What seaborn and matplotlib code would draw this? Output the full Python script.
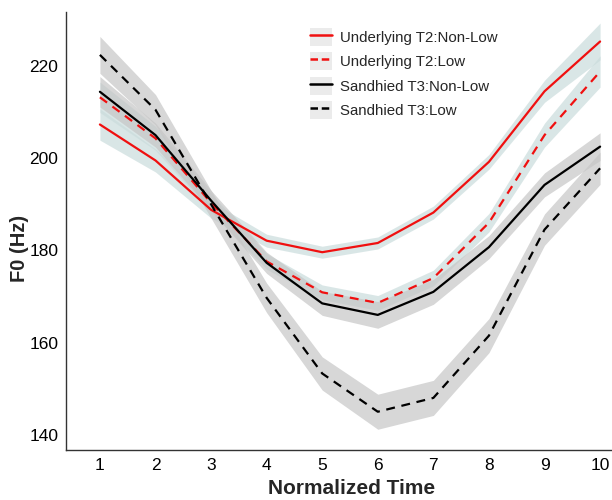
import numpy as np
import pandas as pd
import matplotlib
matplotlib.use("Agg")
import matplotlib.pyplot as plt
from matplotlib.patches import Patch
from matplotlib.lines import Line2D
import seaborn as sns

# Data
time = [1, 2, 3, 4, 5, 6, 7, 8, 9, 10]
groups = ["Underlying T2:Non-Low", "Underlying T2:Low",
          "Sandhied T3:Non-Low", "Sandhied T3:Low"]
u_nonlow = [207.3, 199.5, 188.8, 182.1, 179.6, 181.6, 188.2, 199.2, 214.5, 225.3]
u_low = [213.2, 204.3, 190.3, 177.6, 170.9, 168.6, 174.0, 186.0, 205.0, 218.8]
s_nonlow = [214.4, 205.0, 190.8, 177.3, 168.5, 166.0, 171.0, 180.7, 194.2, 202.5]
s_low = [222.4, 210.5, 190.0, 169.7, 153.3, 145.0, 148.0, 161.5, 184.5, 197.8]
# ribbon half widths
u_nonlow_se = [3.4, 2.5, 1.8, 1.4, 1.3, 1.3, 1.4, 1.6, 2.4, 4.0]
u_low_se = [3.3, 2.6, 2.0, 1.7, 1.6, 1.6, 1.7, 2.0, 2.6, 3.4]
s_nonlow_se = [3.3, 2.6, 2.2, 2.3, 2.6, 2.9, 2.7, 2.5, 2.6, 3.0]
s_low_se = [4.0, 3.3, 3.0, 3.2, 3.6, 3.8, 3.8, 3.7, 3.4, 3.5]

means = [u_nonlow, u_low, s_nonlow, s_low]
ses = [u_nonlow_se, u_low_se, s_nonlow_se, s_low_se]
colors = {groups[0]: "#f01010", groups[1]: "#f01010",
          groups[2]: "#000000", groups[3]: "#000000"}
fills = {groups[0]: "#cadcdc", groups[1]: "#cadcdc",
         groups[2]: "#c6c6c6", groups[3]: "#c6c6c6"}
dash_map = {groups[0]: "", groups[1]: (4, 3), groups[2]: "", groups[3]: (4, 3)}

df = pd.concat([pd.DataFrame({"time": time, "f0": m, "group": g})
                for g, m in zip(groups, means)], ignore_index=True)

sns.set_style("white")
plt.rcParams["font.family"] = ["Liberation Sans", "DejaVu Sans"]

fig = plt.figure(figsize=(6.12, 5.0), dpi=100)
ax = fig.add_axes([66 / 612, 50 / 500, (634 - 66) / 612, (450 - 12) / 500])

for g, m, s in zip(groups, means, ses):
    m = np.array(m)
    s = np.array(s)
    ax.fill_between(time, m - s, m + s, color=fills[g], alpha=0.7, lw=0, zorder=1)

sns.lineplot(data=df, x="time", y="f0", hue="group", style="group",
             hue_order=groups, style_order=groups, palette=colors,
             dashes=dash_map, linewidth=1.6, legend=False, ax=ax, zorder=3)

ax.set_xlim(0.39, 10.61)
ax.set_ylim(136.7, 231.7)
ax.set_xticks(time)
ax.set_yticks([140, 160, 180, 200, 220])
ax.tick_params(axis="both", labelsize=12.5, colors="#333333", length=3.5,
               width=0.8, direction="out", labelcolor="black", pad=2)
for side in ["top", "right"]:
    ax.spines[side].set_visible(False)
for side in ["left", "bottom"]:
    ax.spines[side].set_color("#333333")
    ax.spines[side].set_linewidth(1.0)
ax.set_xlabel("Normalized Time", fontsize=15, fontweight="bold")
ax.set_ylabel("F0 (Hz)", fontsize=14.5, fontweight="bold")
ax.xaxis.set_label_coords((352 - 66) / 568, (450 - 479) / 438)
ax.yaxis.set_label_coords((29 - 66) / 568, (450 - 248) / 438)

handles = []
for g in groups:
    bg = Patch(facecolor="#ebebeb", edgecolor="none")
    ln = Line2D([], [], color=colors[g], lw=1.8,
                linestyle=(0, (3, 1.5)) if dash_map[g] else "-")
    handles.append((bg, ln))
ax.legend(handles, groups, loc="upper left",
          bbox_to_anchor=(310 / 612, 1 - 28 / 500), bbox_transform=fig.transFigure,
          frameon=False, fontsize=10.8, handlelength=1.47, handleheight=1.47,
          labelspacing=0.42, handletextpad=0.53, borderpad=0, borderaxespad=0)

fig.savefig("out.png", dpi=100)
